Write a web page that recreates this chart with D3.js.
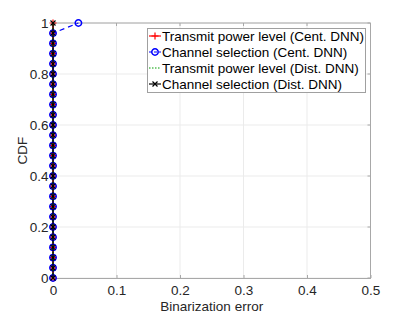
<!DOCTYPE html>
<html><head><meta charset="utf-8">
<script src="https://cdn.jsdelivr.net/npm/d3@7"></script>
<style>body{margin:0;background:#fff}svg{display:block;font-family:"Liberation Sans",Arial,sans-serif}</style>
</head><body><svg id="c" width="409" height="314"></svg>
<script>
const cdfLevels = [0,0.04,0.08,0.12,0.16,0.2,0.24,0.28,0.32,0.36,0.4,0.44,0.48,0.52,0.56,0.6,0.64,0.68,0.72,0.76,0.8,0.84,0.88,0.92,0.96,1];
const powerCent = [0,0,0,0,0,0,0,0,0,0,0,0,0,0,0,0,0,0,0,0,0,0,0,0,0,0];
const channelCent = [0,0,0,0,0,0,0,0,0,0,0,0,0,0,0,0,0,0,0,0,0,0,0,0,0,0.04];
const powerDist = [0,0,0,0,0,0,0,0,0,0,0,0,0,0,0,0,0,0,0,0,0,0,0,0,0,0];
const channelDist = [0,0,0,0,0,0,0,0,0,0,0,0,0,0,0,0,0,0,0,0,0,0,0,0,0,0];
const seriesNames = ["Transmit power level (Cent. DNN)","Channel selection (Cent. DNN)","Transmit power level (Dist. DNN)","Channel selection (Dist. DNN)"];
const xTicks = [0,0.1,0.2,0.3,0.4,0.5];
const yTicks = [0,0.2,0.4,0.6,0.8,1];

const svg = d3.select("#c");
const L=53,R=370.5,T=23,B=278;
const FS=13.5;
const x = d3.scaleLinear().domain([0,0.5]).range([L,R]);
const y = d3.scaleLinear().domain([0,1]).range([B,T]);

// grid
const g = svg.append("g");
g.selectAll(".gx").data(xTicks).enter().append("line")
 .attr("x1",d=>x(d)).attr("x2",d=>x(d)).attr("y1",T).attr("y2",B).attr("stroke","#ebebeb");
g.selectAll(".gy").data(yTicks).enter().append("line")
 .attr("y1",d=>y(d)).attr("y2",d=>y(d)).attr("x1",L).attr("x2",R).attr("stroke","#ebebeb");

// axes
const ax = svg.append("g").attr("transform",`translate(0,${B})`)
 .call(d3.axisBottom(x).tickValues(xTicks).tickFormat(d=>d).tickSizeInner(-3).tickSizeOuter(0).tickPadding(7));
const ay = svg.append("g").attr("transform",`translate(${L},0)`)
 .call(d3.axisLeft(y).tickValues(yTicks).tickFormat(d=>d).tickSizeInner(-3).tickSizeOuter(0).tickPadding(4.5));
[ax,ay].forEach(a=>{a.select(".domain").attr("stroke","#a8a8a8");a.selectAll(".tick line").attr("stroke","#a8a8a8");
 a.selectAll("text").attr("font-size",FS).attr("fill","#262626").attr("font-family","Liberation Sans, Arial, sans-serif");});
svg.append("line").attr("x1",L).attr("x2",R).attr("y1",T).attr("y2",T).attr("stroke","#a8a8a8");
svg.append("line").attr("x1",R).attr("x2",R).attr("y1",T).attr("y2",B).attr("stroke","#a8a8a8");
svg.append("g").selectAll("line").data(xTicks).enter().append("line")
 .attr("x1",d=>x(d)).attr("x2",d=>x(d)).attr("y1",T).attr("y2",T+3).attr("stroke","#a8a8a8");
svg.append("g").selectAll("line").data(yTicks).enter().append("line")
 .attr("y1",d=>y(d)).attr("y2",d=>y(d)).attr("x1",R).attr("x2",R-3).attr("stroke","#a8a8a8");

svg.append("text").attr("x",(L+R)/2).attr("y",311).attr("text-anchor","middle").attr("font-size",FS).attr("fill","#262626").text("Binarization error");
svg.append("text").attr("transform",`translate(27,${(T+B)/2}) rotate(-90)`).attr("text-anchor","middle").attr("font-size",FS).attr("fill","#262626").text("CDF");

const line = d3.line().x(d=>x(d[0])).y(d=>y(d[1]));
function pts(xs){return xs.map((v,i)=>[v,cdfLevels[i]]);}

function marker(sel,type,color){
  if(type==="plus"){
    sel.append("path").attr("d","M-3.5,0H3.5M0,-3.5V3.5").attr("stroke",color).attr("stroke-width",1.2).attr("fill","none");
  } else if(type==="circle"){
    sel.append("circle").attr("r",3.2).attr("stroke",color).attr("stroke-width",1.5).attr("fill","none");
  } else if(type==="x"){
    sel.append("path").attr("d","M-2.5,-2.5L2.5,2.5M-2.5,2.5L2.5,-2.5").attr("stroke",color).attr("stroke-width",1.2).attr("fill","none");
  }
}
const series = [
 {name:seriesNames[0],data:pts(powerCent),color:"#ff0000",dash:null,marker:"plus"},
 {name:seriesNames[1],data:pts(channelCent),color:"#0000ff",dash:"5,4",marker:"circle"},
 {name:seriesNames[2],data:pts(powerDist),color:"#00a000",dash:"1.5,2",marker:null},
 {name:seriesNames[3],data:pts(channelDist),color:"#000000",dash:null,marker:"x"}
];
const plot = svg.append("g");
series.forEach(s=>{
  plot.append("path").datum(s.data).attr("d",line).attr("fill","none").attr("stroke",s.color)
    .attr("stroke-width",1.2).attr("stroke-dasharray",s.dash);
  if(s.marker){
    plot.append("g").selectAll("g").data(s.data).enter().append("g")
      .attr("transform",d=>`translate(${x(d[0])},${y(d[1])})`).each(function(){marker(d3.select(this),s.marker,s.color);});
  }
});

// legend
const lg = svg.append("g");
lg.append("rect").attr("x",147.5).attr("y",28.5).attr("width",218).attr("height",64).attr("fill","#fff").attr("stroke","#a0a0a0");
series.forEach((s,i)=>{
  const cy = 36+i*16;
  lg.append("line").attr("x1",149).attr("x2",161).attr("y1",cy).attr("y2",cy).attr("stroke",s.color).attr("stroke-width",1.2).attr("stroke-dasharray",s.dash?(i===1?"3,2":"1.5,1.5"):null);
  if(s.marker){const m=lg.append("g").attr("transform",`translate(155,${cy})`);marker(m,s.marker,s.color);}
  lg.append("text").attr("x",162).attr("y",cy).attr("dy","0.35em").attr("font-size",FS).attr("fill","#000").text(s.name);
});
</script></body></html>
